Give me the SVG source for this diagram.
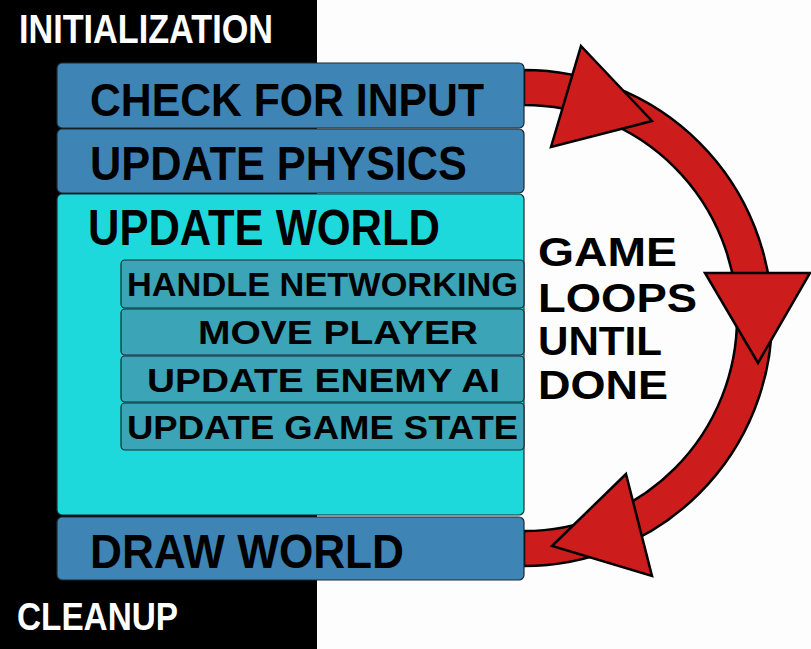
<svg xmlns="http://www.w3.org/2000/svg" width="811" height="649" viewBox="0 0 811 649">
<style>
.t{font-family:"Liberation Sans",Arial,sans-serif;font-weight:bold;fill:#000}
.w{font-family:"Liberation Sans",Arial,sans-serif;font-weight:bold;fill:#fff}
.blue{fill:#3e85b6;stroke:#1b2a35;stroke-width:1.2}
.cyan{fill:#1ed9db;stroke:#1b2a35;stroke-width:1.2}
.sub{fill:#3ba4b6;stroke:#1b2a35;stroke-width:1.2}
.red{fill:#cc1c1c;stroke:#000;stroke-width:2.5;stroke-linejoin:miter}
</style>
<rect x="0" y="0" width="811" height="649" fill="#fdfdfd"/>
<rect x="0" y="0" width="317" height="649" fill="#000"/>
<g id="connectors">
<path class="red" d="M524,70 A248,248 0 1 1 524,566 L524,531 A213,213 0 1 0 524,105 Z"/>
<polygon class="red" points="581,46 652,121 551,147"/>
<polygon class="red" points="705,273 810,273 758,363"/>
<polygon class="red" points="626,474 652,576 552,546"/>
</g>
<g id="initialization"><text class="w" x="19" y="43" font-size="40" textLength="254" lengthAdjust="spacingAndGlyphs">INITIALIZATION</text></g>
<g id="check-input"><rect class="blue" x="57" y="63" width="467" height="65" rx="5"/><text class="t" x="90" y="116" font-size="47" textLength="394" lengthAdjust="spacingAndGlyphs">CHECK FOR INPUT</text></g>
<g id="update-physics"><rect class="blue" x="57" y="129" width="467" height="64" rx="5"/><text class="t" x="90" y="180" font-size="48" textLength="377" lengthAdjust="spacingAndGlyphs">UPDATE PHYSICS</text></g>
<g id="update-world"><rect class="cyan" x="57" y="194" width="467" height="321" rx="5"/><text class="t" x="88" y="245" font-size="50" textLength="352" lengthAdjust="spacingAndGlyphs">UPDATE WORLD</text></g>
<g id="handle-networking"><rect class="sub" x="121" y="260" width="403" height="48" rx="4"/><text class="t" x="127" y="296" font-size="33" textLength="391" lengthAdjust="spacingAndGlyphs">HANDLE NETWORKING</text></g>
<g id="move-player"><rect class="sub" x="121" y="309" width="403" height="46" rx="4"/><text class="t" x="198" y="344" font-size="33" textLength="280" lengthAdjust="spacingAndGlyphs">MOVE PLAYER</text></g>
<g id="update-enemy-ai"><rect class="sub" x="121" y="356" width="403" height="46" rx="4"/><text class="t" x="147" y="392" font-size="34" textLength="353" lengthAdjust="spacingAndGlyphs">UPDATE ENEMY AI</text></g>
<g id="update-game-state"><rect class="sub" x="121" y="403" width="403" height="47" rx="4"/><text class="t" x="127" y="439" font-size="33" textLength="391" lengthAdjust="spacingAndGlyphs">UPDATE GAME STATE</text></g>
<g id="draw-world"><rect class="blue" x="57" y="517" width="467" height="63" rx="5"/><text class="t" x="90" y="568" font-size="48" textLength="314" lengthAdjust="spacingAndGlyphs">DRAW WORLD</text></g>
<g id="cleanup"><text class="w" x="17" y="630" font-size="38" textLength="161" lengthAdjust="spacingAndGlyphs">CLEANUP</text></g>
<g id="loop-label">
<text class="t" x="538" y="266" font-size="41" textLength="139" lengthAdjust="spacingAndGlyphs">GAME</text>
<text class="t" x="538" y="312" font-size="41" textLength="159" lengthAdjust="spacingAndGlyphs">LOOPS</text>
<text class="t" x="538" y="355" font-size="41" textLength="124" lengthAdjust="spacingAndGlyphs">UNTIL</text>
<text class="t" x="538" y="399" font-size="41" textLength="130" lengthAdjust="spacingAndGlyphs">DONE</text>
</g>
</svg>
